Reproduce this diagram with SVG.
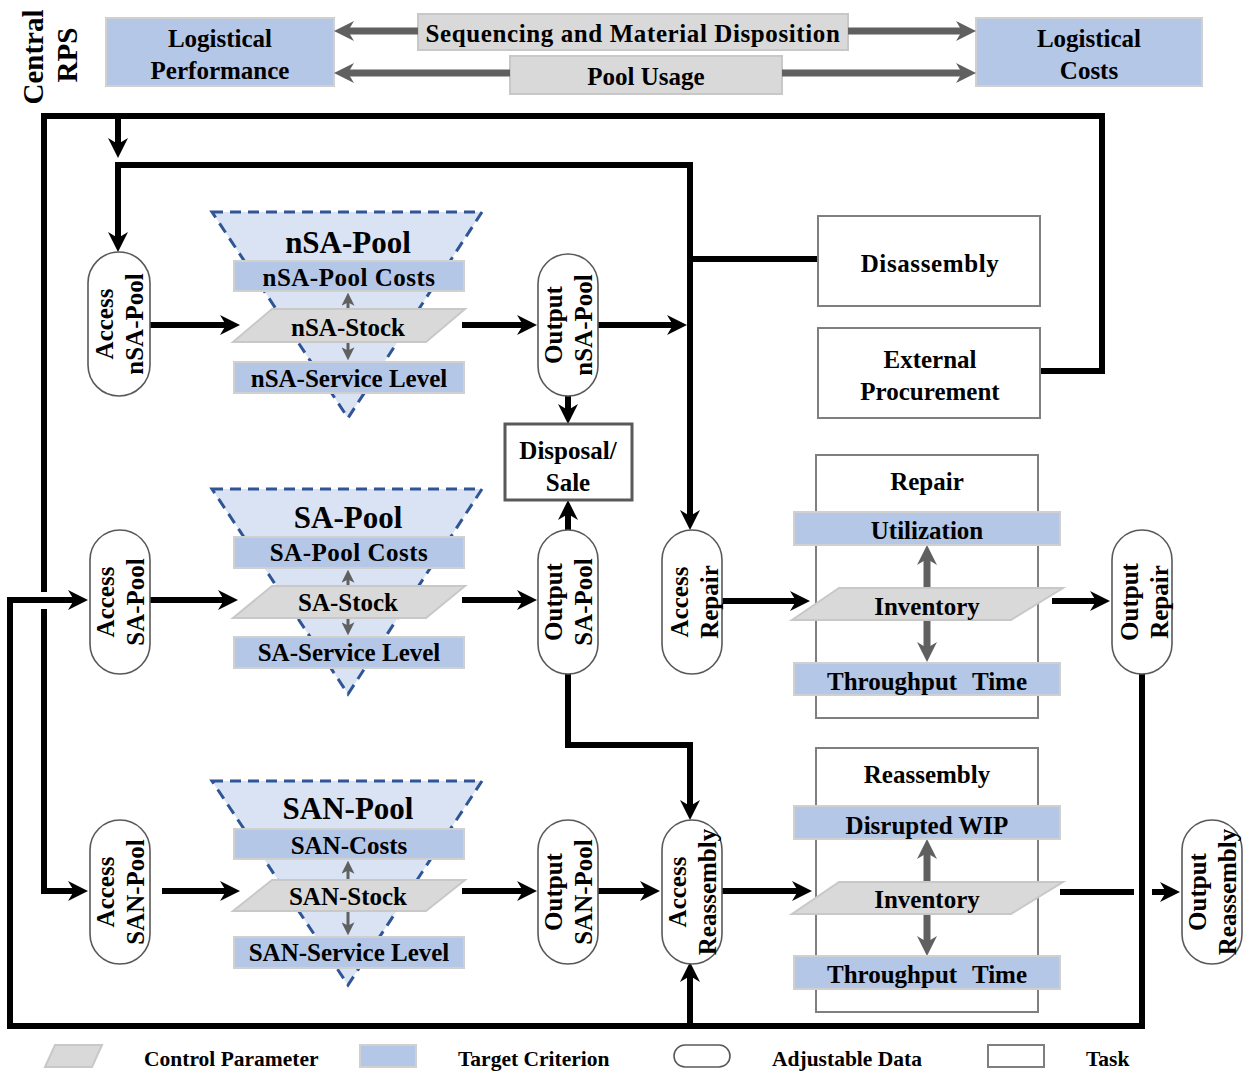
<svg xmlns="http://www.w3.org/2000/svg" width="1245" height="1071" viewBox="0 0 1245 1071">
<style>
.t{font-family:"Liberation Serif","Times New Roman",serif;font-weight:bold;fill:#000;text-anchor:middle;dominant-baseline:central;font-size:25px}
.big{font-size:31px}
.cen{font-size:29px}
.lg{font-size:21.5px;text-anchor:start}
.ws{word-spacing:9px}
.blue{fill:#b4c7e7;stroke:#d0d0d0;stroke-width:2}
.gray{fill:#d9d9d9;stroke:#c8c8c8;stroke-width:2}
.pill{fill:#fff;stroke:#595959;stroke-width:1.6}
.task{fill:#fff;stroke:#7f7f7f;stroke-width:2}
.tri{fill:#dae3f3;stroke:#2f5597;stroke-width:3;stroke-dasharray:11 7}
.k{fill:none;stroke:#000;stroke-width:6}
.g{fill:none;stroke:#606060;stroke-width:7}
.gs{fill:none;stroke:#606060;stroke-width:3}
.gm{fill:none;stroke:#606060;stroke-width:7}
</style>
<defs>
<marker id="ak" viewBox="0 0 20 20" refX="10" refY="10" markerWidth="20" markerHeight="20" markerUnits="userSpaceOnUse" orient="auto"><path d="M0,0 L20,10 L0,20 L6,10 z" fill="#000"/></marker>
<marker id="ag" viewBox="0 0 20 20" refX="10" refY="10" markerWidth="22" markerHeight="20" markerUnits="userSpaceOnUse" orient="auto"><path d="M0,0 L20,10 L0,20 L6,10 z" fill="#606060"/></marker>
<marker id="as" viewBox="0 0 12 12" refX="8" refY="6" markerWidth="13" markerHeight="13" markerUnits="userSpaceOnUse" orient="auto"><path d="M0,0 L12,6 L0,12 L3,6 z" fill="#606060"/></marker>
</defs>

<g id="central-rps">
<text class="t cen" transform="translate(33,57) rotate(-90)">Central</text>
<text class="t cen" transform="translate(67,55) rotate(-90)">RPS</text>
</g>
<g id="logistical-performance"><rect class="blue" x="106" y="18" width="228" height="68"/><text class="t" x="220" y="38">Logistical</text><text class="t" x="220" y="70">Performance</text></g>
<g id="sequencing"><rect class="gray" x="418" y="14" width="430" height="36"/><text class="t" x="633" y="33" style="letter-spacing:0.6px">Sequencing and Material Disposition</text></g>
<g id="pool-usage"><rect class="gray" x="510" y="56" width="272" height="38"/><text class="t" x="646" y="76">Pool Usage</text></g>
<g id="logistical-costs"><rect class="blue" x="976" y="18" width="226" height="68"/><text class="t" x="1089" y="38">Logistical</text><text class="t" x="1089" y="70">Costs</text></g>

<g id="connectors">
<path class="g" d="M418,31 H344" marker-end="url(#ag)"/>
<path class="g" d="M848,31 H966" marker-end="url(#ag)"/>
<path class="g" d="M510,73 H344" marker-end="url(#ag)"/>
<path class="g" d="M782,73 H966" marker-end="url(#ag)"/>

<path class="k" d="M1040,371 H1102 V116 H44 V592"/>
<path class="k" d="M44,609 V891 H78" marker-end="url(#ak)"/>
<path class="k" d="M118,116 V148" marker-end="url(#ak)"/>
<path class="k" d="M690,165 H118 V242" marker-end="url(#ak)"/>
<path class="k" d="M690,162 V520" marker-end="url(#ak)"/>
<path class="k" d="M690,259 H818"/>
<path class="k" d="M598,325 H677" marker-end="url(#ak)"/>
<path class="k" d="M150,325 H230" marker-end="url(#ak)"/>
<path class="k" d="M462,325 H527" marker-end="url(#ak)"/>
<path class="k" d="M568,396 V414" marker-end="url(#ak)"/>
<path class="k" d="M568,530 V510" marker-end="url(#ak)"/>
<path class="k" d="M150,600 H228" marker-end="url(#ak)"/>
<path class="k" d="M462,600 H527" marker-end="url(#ak)"/>
<path class="k" d="M1142,672 V1026 H10 V600 H78" marker-end="url(#ak)"/>
<path class="k" d="M690,1026 V972" marker-end="url(#ak)"/>
<path class="k" d="M568,674 V745 H690 V810" marker-end="url(#ak)"/>
<path class="k" d="M722,601 H800" marker-end="url(#ak)"/>
<path class="k" d="M1052,601 H1100" marker-end="url(#ak)"/>
<path class="k" d="M162,891 H230" marker-end="url(#ak)"/>
<path class="k" d="M462,891 H527" marker-end="url(#ak)"/>
<path class="k" d="M598,891 H650" marker-end="url(#ak)"/>
<path class="k" d="M722,891 H802" marker-end="url(#ak)"/>
<path class="k" d="M1060,892 H1134"/>
<path class="k" d="M1152,892 H1170" marker-end="url(#ak)"/>
</g>

<g id="nsa-pool">
<polygon class="tri" points="212,212 482,212 348,418"/>
<text class="t big" x="348" y="242">nSA-Pool</text>
<rect class="blue" x="234" y="261" width="230" height="30"/><text class="t" x="349" y="277" style="letter-spacing:0.5px">nSA-Pool Costs</text>
<path class="gs" d="M348,326 V297" marker-end="url(#as)"/>
<path class="gs" d="M348,326 V356" marker-end="url(#as)"/>
<polygon class="gray" points="272,309 465,309 426,342 233,342"/><text class="t" x="348" y="327">nSA-Stock</text>
<rect class="blue" x="234" y="362" width="230" height="31"/><text class="t" x="349" y="378">nSA-Service Level</text>
</g>
<g id="sa-pool">
<polygon class="tri" points="212,489 482,489 348,694"/>
<text class="t big" x="348" y="517">SA-Pool</text>
<rect class="blue" x="234" y="537" width="230" height="31"/><text class="t" x="349" y="552" style="letter-spacing:0.5px">SA-Pool Costs</text>
<path class="gs" d="M348,602 V574" marker-end="url(#as)"/>
<path class="gs" d="M348,602 V631" marker-end="url(#as)"/>
<polygon class="gray" points="272,586 465,586 426,618 233,618"/><text class="t" x="348" y="602">SA-Stock</text>
<rect class="blue" x="234" y="637" width="230" height="31"/><text class="t" x="349" y="652">SA-Service Level</text>
</g>
<g id="san-pool">
<polygon class="tri" points="212,781 482,781 348,985"/>
<text class="t big" x="348" y="808">SAN-Pool</text>
<rect class="blue" x="234" y="829" width="230" height="30"/><text class="t" x="349" y="845">SAN-Costs</text>
<path class="gs" d="M348,895 V865" marker-end="url(#as)"/>
<path class="gs" d="M348,895 V931" marker-end="url(#as)"/>
<polygon class="gray" points="272,880 465,880 426,911 233,911"/><text class="t" x="348" y="896">SAN-Stock</text>
<rect class="blue" x="234" y="937" width="230" height="31"/><text class="t" x="349" y="952">SAN-Service Level</text>
</g>

<g id="access-nsa-pool"><rect class="pill" x="88" y="252" width="62" height="144" rx="31"/><text class="t" transform="translate(119,324) rotate(-90)"><tspan x="0" y="-15">Access</tspan><tspan x="0" y="15">nSA-Pool</tspan></text></g>
<g id="output-nsa-pool"><rect class="pill" x="538" y="254" width="60" height="142" rx="30"/><text class="t" transform="translate(568,325) rotate(-90)"><tspan x="0" y="-15">Output</tspan><tspan x="0" y="15">nSA-Pool</tspan></text></g>
<g id="access-sa-pool"><rect class="pill" x="90" y="530" width="60" height="144" rx="30"/><text class="t" transform="translate(120,602) rotate(-90)"><tspan x="0" y="-15">Access</tspan><tspan x="0" y="15">SA-Pool</tspan></text></g>
<g id="output-sa-pool"><rect class="pill" x="538" y="530" width="60" height="144" rx="30"/><text class="t" transform="translate(568,602) rotate(-90)"><tspan x="0" y="-15">Output</tspan><tspan x="0" y="15">SA-Pool</tspan></text></g>
<g id="access-repair"><rect class="pill" x="662" y="530" width="60" height="144" rx="30"/><text class="t" transform="translate(694,602) rotate(-90)"><tspan x="0" y="-15">Access</tspan><tspan x="0" y="15">Repair</tspan></text></g>
<g id="output-repair"><rect class="pill" x="1112" y="530" width="60" height="144" rx="30"/><text class="t" transform="translate(1144,602) rotate(-90)"><tspan x="0" y="-15">Output</tspan><tspan x="0" y="15">Repair</tspan></text></g>
<g id="access-san-pool"><rect class="pill" x="90" y="820" width="60" height="144" rx="30"/><text class="t" transform="translate(120,892) rotate(-90)"><tspan x="0" y="-15">Access</tspan><tspan x="0" y="15">SAN-Pool</tspan></text></g>
<g id="output-san-pool"><rect class="pill" x="538" y="820" width="60" height="144" rx="30"/><text class="t" transform="translate(568,892) rotate(-90)"><tspan x="0" y="-15">Output</tspan><tspan x="0" y="15">SAN-Pool</tspan></text></g>
<g id="access-reassembly"><rect class="pill" x="662" y="820" width="60" height="144" rx="30"/><text class="t" transform="translate(692,892) rotate(-90)"><tspan x="0" y="-15">Access</tspan><tspan x="0" y="15">Reassembly</tspan></text></g>
<g id="output-reassembly"><rect class="pill" x="1182" y="820" width="60" height="144" rx="30"/><text class="t" transform="translate(1212,892) rotate(-90)"><tspan x="0" y="-15">Output</tspan><tspan x="0" y="15">Reassembly</tspan></text></g>

<g id="disassembly"><rect class="task" x="818" y="216" width="222" height="90"/><text class="t" x="930" y="263" style="letter-spacing:0.6px">Disassembly</text></g>
<g id="external-procurement"><rect class="task" x="818" y="328" width="222" height="90"/><text class="t" x="930" y="359">External</text><text class="t" x="930" y="391">Procurement</text></g>
<g id="disposal-sale"><rect x="505" y="424" width="127" height="76" fill="#fff" stroke="#595959" stroke-width="3"/><text class="t" x="568" y="450">Disposal/</text><text class="t" x="568" y="482">Sale</text></g>

<g id="repair">
<rect class="task" x="816" y="455" width="222" height="263"/>
<text class="t" x="927" y="481">Repair</text>
<path class="gm" d="M927,604 V555" marker-end="url(#ag)"/>
<path class="gm" d="M927,604 V652" marker-end="url(#ag)"/>
<rect class="blue" x="794" y="512" width="266" height="33"/><text class="t" x="927" y="530">Utilization</text>
<polygon class="gray" points="839,588 1063,588 1011,620 792,620"/><text class="t" x="927" y="606">Inventory</text>
<rect class="blue" x="794" y="663" width="266" height="32"/><text class="t ws" x="927" y="681">Throughput Time</text>
</g>
<g id="reassembly">
<rect class="task" x="816" y="748" width="222" height="264"/>
<text class="t" x="927" y="774">Reassembly</text>
<path class="gm" d="M927,898 V849" marker-end="url(#ag)"/>
<path class="gm" d="M927,898 V946" marker-end="url(#ag)"/>
<rect class="blue" x="794" y="806" width="266" height="33"/><text class="t" x="927" y="825">Disrupted WIP</text>
<polygon class="gray" points="839,882 1063,882 1011,914 792,914"/><text class="t" x="927" y="899">Inventory</text>
<rect class="blue" x="794" y="956" width="266" height="33"/><text class="t ws" x="927" y="974">Throughput Time</text>
</g>

<g id="legend">
<polygon class="gray" points="55,1045 102,1045 92,1067 45,1067"/>
<text class="t lg" x="144" y="1059">Control Parameter</text>
<rect class="blue" x="360" y="1045" width="56" height="22"/>
<text class="t lg" x="458" y="1059">Target Criterion</text>
<rect class="pill" x="674" y="1045" width="56" height="22" rx="11"/>
<text class="t lg" x="772" y="1059">Adjustable Data</text>
<rect class="task" x="988" y="1045" width="56" height="22"/>
<text class="t lg" x="1086" y="1059">Task</text>
</g>
</svg>
